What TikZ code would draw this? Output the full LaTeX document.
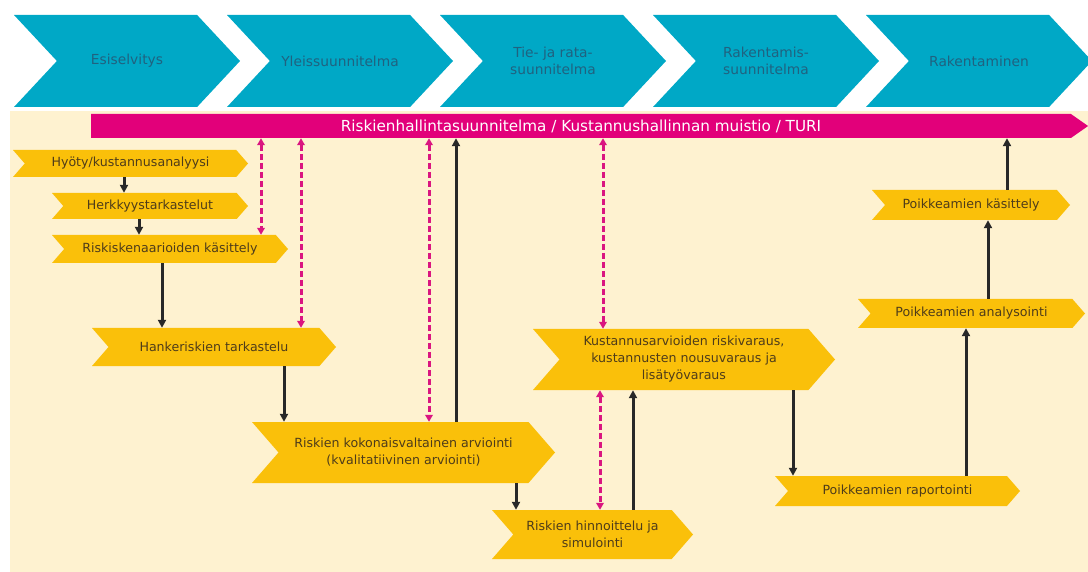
\documentclass[tikz,border=0pt]{standalone}
\usepackage{fontspec}
\setmainfont{DejaVu Sans}
\usetikzlibrary{
    shapes.symbols,
    arrows.meta
}
\definecolor{vaihe}{RGB}{0,168,198}
\definecolor{vaiheteksti}{RGB}{32,98,128}
\definecolor{turi}{RGB}{226,0,122}
\definecolor{laatikko}{RGB}{250,192,10}
\definecolor{laatikkoteksti}{RGB}{78,60,26}
\definecolor{tausta}{RGB}{254,242,208}
\definecolor{nuoli}{RGB}{40,40,40}
\definecolor{katko}{RGB}{218,22,128}
\tikzset{
  phase/.style={
    signal, signal to=east, signal from=west,
    signal pointer angle=94,
    fill=vaihe, text=vaiheteksti,
    minimum width=226, minimum height=92,
    inner sep=0pt, align=center,
    font=\fontsize{13.8}{17}\selectfont
  },
  riskbox/.style={
    signal, signal to=east, signal from=west,
    signal pointer angle=98,
    fill=laatikko, text=laatikkoteksti,
    inner sep=0pt, align=center,
    font=\fontsize{12.6}{17}\selectfont
  },
  flow/.style={
    nuoli, line width=3pt,
    -{Triangle[length=8pt,width=8pt]}
  },
  link/.style={
    katko, line width=3pt, dash pattern=on 6pt off 3pt,
    {Triangle[length=7pt,width=7.5pt]}-{Triangle[length=7pt,width=7.5pt]}
  }
}

\begin{document}
\begin{tikzpicture}[x=1pt,y=-1pt]
    \useasboundingbox (0,0) rectangle (1088,572);

    % tausta
    \fill[tausta] (10,111) rectangle (1088,572);

    % vaiheet
    \node[phase] (esi) at (127,61) {Esiselvitys};
    \node[phase] (yleis) at (340,61) {Yleissuunnitelma};
    \node[phase] (tie) at (553,61) {Tie- ja rata-\\suunnitelma};
    \node[phase] (rak) at (766,61) {Rakentamis-\\suunnitelma};
    \node[phase] (rakentaminen) at (979,61) {Rakentaminen};

    % palkki
    \node[signal, signal to=east, signal pointer angle=70,
          fill=turi, text=white, inner sep=0pt,
          minimum width=997, minimum height=24,
          font=\fontsize{15.2}{17}\selectfont]
        (turi) at (581,126)
        {Riskienhallintasuunnitelma / Kustannushallinnan muistio / TURI};

    % laatikot
    \node[riskbox, minimum width=235, minimum height=27] (hyoty) at (130.5,163.5) {Hyöty/kustannusanalyysi};
    \node[riskbox, minimum width=196, minimum height=26] (herkkyys) at (150,206) {Herkkyystarkastelut};
    \node[riskbox, minimum width=236, minimum height=28] (skenaario) at (170,249) {Riskiskenaarioiden käsittely};
    \node[riskbox, minimum width=244, minimum height=38] (hanke) at (214,347) {Hankeriskien tarkastelu};
    \node[riskbox, minimum width=303, minimum height=61] (kokonais) at (403.5,452.5)
        {Riskien kokonaisvaltainen arviointi\\(kvalitatiivinen arviointi)};
    \node[riskbox, minimum width=201, minimum height=49] (hinnoittelu) at (592.5,534.5)
        {Riskien hinnoittelu ja\\simulointi};
    \node[riskbox, minimum width=302, minimum height=61] (kustannus) at (684,359.5)
        {Kustannusarvioiden riskivaraus,\\kustannusten nousuvaraus ja\\lisätyövaraus};
    \node[riskbox, minimum width=245, minimum height=30] (raportointi) at (897.5,491) {Poikkeamien raportointi};
    \node[riskbox, minimum width=227, minimum height=29] (analysointi) at (971.5,313.5) {Poikkeamien analysointi};
    \node[riskbox, minimum width=198, minimum height=30] (kasittely) at (971,205) {Poikkeamien käsittely};

    % nuolet
    \draw[flow] (hyoty.south -| 124,0) -- (herkkyys.north -| 124,0);
    \draw[flow] (herkkyys.south -| 139,0) -- (skenaario.north -| 139,0);
    \draw[flow] (skenaario.south -| 162,0) -- (hanke.north -| 162,0);
    \draw[flow] (hanke.south -| 284,0) -- (kokonais.north -| 284,0);
    \draw[flow] (kokonais.north -| 456,0) -- (turi.south -| 456,0);
    \draw[flow] (kokonais.south -| 516,0) -- (hinnoittelu.north -| 516,0);
    \draw[flow] (hinnoittelu.north -| 633,0) -- (kustannus.south -| 633,0);
    \draw[flow] (kustannus.south -| 793,0) -- (raportointi.north -| 793,0);
    \draw[flow] (raportointi.north -| 966,0) -- (analysointi.south -| 966,0);
    \draw[flow] (analysointi.north -| 988,0) -- (kasittely.south -| 988,0);
    \draw[flow] (kasittely.north -| 1007,0) -- (turi.south -| 1007,0);

    % katkoviivat
    \draw[link] (turi.south -| 261,0) -- (skenaario.north -| 261,0);
    \draw[link] (turi.south -| 301,0) -- (hanke.north -| 301,0);
    \draw[link] (turi.south -| 429,0) -- (kokonais.north -| 429,0);
    \draw[link] (turi.south -| 603,0) -- (kustannus.north -| 603,0);
    \draw[link] (kustannus.south -| 600,0) -- (hinnoittelu.north -| 600,0);
\end{tikzpicture}
\end{document}
